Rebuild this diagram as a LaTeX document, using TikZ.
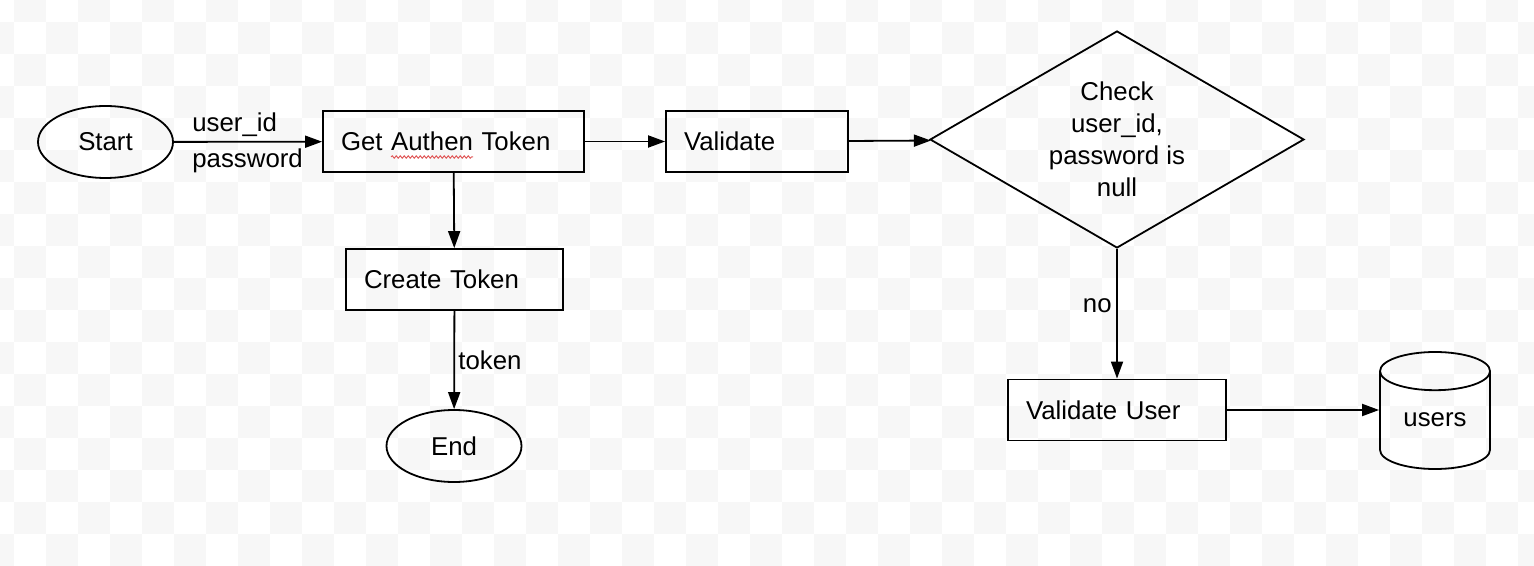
\documentclass[tikz,border=0pt]{standalone}
\usepackage{fontspec}
\setmainfont{Liberation Sans}
\usepackage{tikz}
\usetikzlibrary{shapes.geometric}
\usetikzlibrary{arrows.meta}
\usetikzlibrary{decorations.pathmorphing}
\definecolor{checkgray}{HTML}{F7F7F7}
\definecolor{spellred}{HTML}{E05A5A}
\tikzset{every node/.style={font=\fontsize{12.9}{16}\selectfont}}
\tikzset{terminal/.style={ellipse, draw, line width=.9pt, minimum width=67.5pt, minimum height=36pt, inner sep=0pt}}
\tikzset{procbox/.style={rectangle, draw, line width=.9pt, minimum height=30.5pt, inner xsep=9pt, align=left}}
\tikzset{decision/.style={diamond, draw, line width=.9pt, aspect=1.72, minimum width=187pt, minimum height=108.5pt, inner sep=0pt, align=center}}
\tikzset{store/.style={cylinder, shape border rotate=90, draw, line width=.9pt, aspect=.5, minimum width=55pt, minimum height=58.5pt, text depth=6pt, anchor=shape center}}
\tikzset{lbl/.style={inner sep=0pt}}
\tikzset{conn/.style={line width=.9pt, -{Triangle[length=8.5pt,width=6pt]}}}
\tikzset{%
  apply style/.code={%
    \tikzset{#1}%
  }
}
\begin{document}
\begin{tikzpicture}[x=.5pt,y=-.5pt]
  \useasboundingbox (0,0) rectangle (1534,566);
  % checker background
  \begin{scope}
    \clip (0,0) rectangle (1534,566);
    \foreach \j in {0,...,17} {
      \pgfmathtruncatemacro\ist{-mod(\j,2)}
      \pgfmathtruncatemacro\isn{\ist+2}
      \foreach \i in {\ist,\isn,...,47}
        \fill[checkgray] (14+32*\i,-10+32*\j) rectangle ++(32,32);
    }
  \end{scope}
  \foreach \x/\y/\name/\lab/\style in {
    105.5/142/Start/start/terminal,
    453.5/141.5/Get Authen Token/get/{procbox, text width=112.5pt},
    757/141.5/Validate/val/{procbox, text width=73pt},
    1117/139.5/{Check\\user\_id,\\password is\\null}/chk/decision,
    454.5/279.5/Create Token/crt/{procbox, text width=90.5pt},
    454/446/End/stop/terminal,
    1117/410/Validate User/vu/{procbox, text width=91pt},
    1435/410.5/users/users/store%
  } {
    \node[apply style/.expand once=\style] (\lab) at (\x, \y) {\name};
  }
  \foreach \u/\v/\style in {
    start/get/{},
    get/val/{},
    val/chk/{},
    get/crt/{},
    crt/stop/{},
    chk/vu/{},
    vu/vu -| users.west/{}%
  }{
    \draw[conn] (\u) edge[apply style/.expand once=\style] (\v);
  }
  % labels on connectors
  \node[lbl, anchor=base west] (uid) at (192,132) {user\_id};
  \node[lbl, anchor=base west] (pwd) at (192,168) {password};
  \node[lbl, anchor=base west] (tok) at (458,369) {token};
  \node[lbl, anchor=base east] (no) at (1112,313) {no};
  % spell check mark
  \draw[spellred, line width=.5pt, decorate,
    decoration={snake, amplitude=.6pt, segment length=2pt}] (391,157) -- (473,157);
\end{tikzpicture}
\end{document}
